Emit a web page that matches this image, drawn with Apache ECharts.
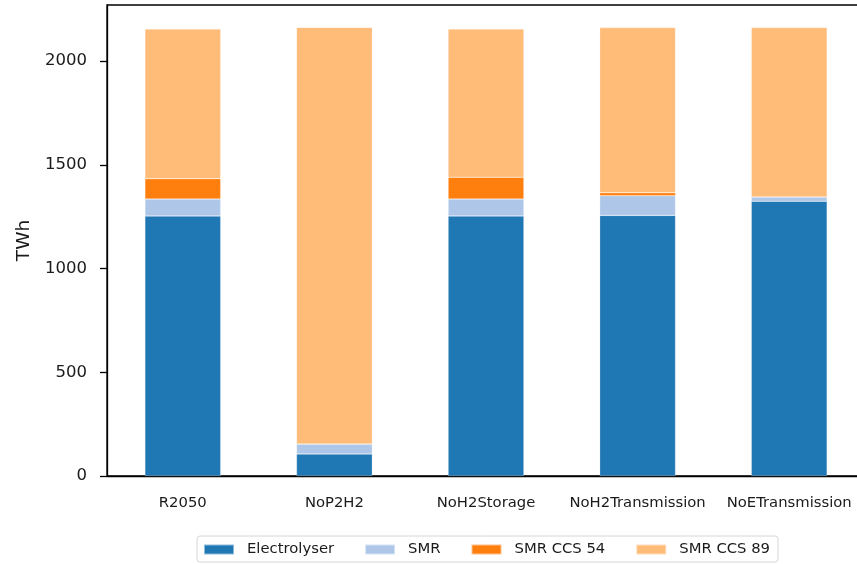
<!DOCTYPE html>
<html>
<head>
<meta charset="utf-8">
<script src="https://cdn.jsdelivr.net/npm/echarts@6/dist/echarts.min.js"></script>
<style>html,body{margin:0;padding:0;background:#fff}#c{width:857px;height:564px}</style>
</head>
<body>
<div id="c"></div>
<script>
const categories = ['R2050', 'NoP2H2', 'NoH2Storage', 'NoH2Transmission', 'NoETransmission'];
const electrolyser = [1253, 106, 1253, 1256, 1324];
const smr = [82, 48, 82, 95, 21];
const smrCcs54 = [98, 0, 105, 14, 0];
const smrCcs89 = [721, 2008, 714, 796, 816];
const yTicks = [0, 500, 1000, 1500, 2000];

const font = 'DejaVu Sans';
const colors = ['#1f77b4', '#aec7e8', '#ff7f0e', '#ffbb78'];
const names = ['Electrolyser', 'SMR', 'SMR CCS 54', 'SMR CCS 89'];
const values = [electrolyser, smr, smrCcs54, smrCcs89];

const chart = echarts.init(document.getElementById('c'), null, {renderer: 'canvas'});
chart.setOption({
  animation: false,
  backgroundColor: '#fff',
  color: colors,
  grid: {left: 107, top: 5, width: 758, bottom: 88, outerBoundsMode: 'none', containLabel: false,
         show: true, borderColor: '#000', borderWidth: 1.3, backgroundColor: 'transparent'},
  legend: {
    left: 197, top: 536,
    itemWidth: 30, itemHeight: 10, itemGap: 30,
    icon: 'rect',
    padding: [6, 8, 5, 6],
    borderColor: '#d6d6d6', borderWidth: 1, borderRadius: 3,
    textStyle: {fontFamily: font, fontSize: 14.8, color: '#1a1a1a', padding: [0, 0, 0, 8]},
    data: names
  },
  xAxis: {
    type: 'category', data: categories,
    axisLine: {lineStyle: {color: '#000', width: 1.3}},
    axisTick: {alignWithLabel: true, length: 7, lineStyle: {color: '#000', width: 1.3}},
    axisLabel: {fontFamily: font, fontSize: 14.8, color: '#1a1a1a', margin: 20, interval: 0, hideOverlap: false}
  },
  yAxis: {
    type: 'value', min: 0, max: 2270, interval: 500,
    name: 'TWh', nameLocation: 'middle', nameRotate: 90, nameGap: 70,
    nameTextStyle: {fontFamily: font, fontSize: 18.5, color: '#1a1a1a'},
    axisLine: {show: true, lineStyle: {color: '#000', width: 1.3}},
    axisTick: {show: true, length: 7, lineStyle: {color: '#000', width: 1.3}, customValues: yTicks},
    axisLabel: {fontFamily: font, fontSize: 16.5, color: '#1a1a1a', margin: 20, customValues: yTicks,
                formatter: v => String(v)},
    splitLine: {show: false}
  },
  series: names.map((n, i) => ({
    name: n, type: 'bar', stack: 'total', barWidth: '50%',
    data: values[i],
    itemStyle: {color: colors[i], borderColor: 'rgba(255,255,255,0.5)', borderWidth: 0.5}
  }))
});
</script>
</body>
</html>
